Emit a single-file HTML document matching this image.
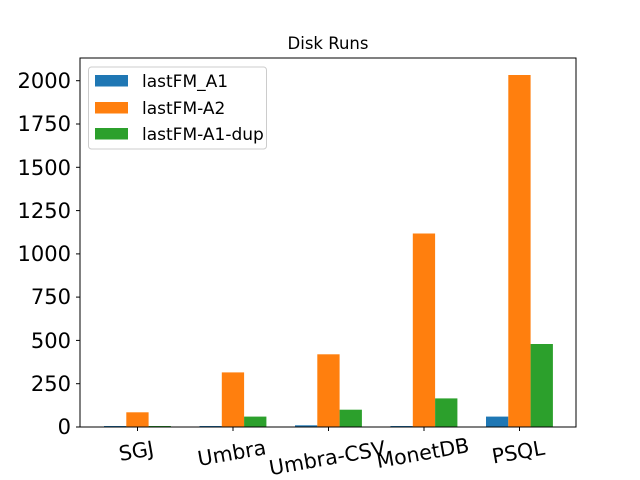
<!DOCTYPE html>
<html><head><style>body{margin:0;background:#fff}svg{display:block}text{font-family:"DejaVu Sans","Liberation Sans",sans-serif}</style></head>
<body>
<svg width="640" height="480" viewBox="0 0 640 480" xmlns="http://www.w3.org/2000/svg">
<rect width="640" height="480" fill="#fff"/>
<text x="328" y="49" font-size="16.5" text-anchor="middle">Disk Runs</text>
<g id="bars">
<rect x="104" y="426" width="22.3" height="1" fill="#1f77b4"/>
<rect x="126.3" y="412.3" width="22.3" height="14.7" fill="#ff7f0e"/>
<rect x="148.6" y="426" width="22.3" height="1" fill="#2ca02c"/>

<rect x="199.5" y="426" width="22.3" height="1" fill="#1f77b4"/>
<rect x="221.8" y="372.4" width="22.3" height="54.6" fill="#ff7f0e"/>
<rect x="244.1" y="416.6" width="22.3" height="10.4" fill="#2ca02c"/>

<rect x="295" y="425.3" width="22.3" height="1.7" fill="#1f77b4"/>
<rect x="317.3" y="354.3" width="22.3" height="72.7" fill="#ff7f0e"/>
<rect x="339.6" y="409.7" width="22.3" height="17.3" fill="#2ca02c"/>

<rect x="390.5" y="426" width="22.3" height="1" fill="#1f77b4"/>
<rect x="412.8" y="233.5" width="22.3" height="193.5" fill="#ff7f0e"/>
<rect x="435.1" y="398.4" width="22.3" height="28.6" fill="#2ca02c"/>

<rect x="486" y="416.6" width="22.3" height="10.4" fill="#1f77b4"/>
<rect x="508.3" y="75" width="22.3" height="352" fill="#ff7f0e"/>
<rect x="530.6" y="344" width="22.3" height="83" fill="#2ca02c"/>
</g>
<rect x="80" y="58" width="496" height="369" fill="none" stroke="#000" stroke-width="1"/>
<g stroke="#000" stroke-width="1">
<line x1="76" y1="427" x2="80" y2="427"/><line x1="76" y1="383.7" x2="80" y2="383.7"/><line x1="76" y1="340.4" x2="80" y2="340.4"/><line x1="76" y1="297.1" x2="80" y2="297.1"/><line x1="76" y1="253.9" x2="80" y2="253.9"/><line x1="76" y1="210.6" x2="80" y2="210.6"/><line x1="76" y1="167.3" x2="80" y2="167.3"/><line x1="76" y1="124" x2="80" y2="124"/><line x1="76" y1="80.7" x2="80" y2="80.7"/>
<line x1="137.5" y1="427" x2="137.5" y2="431"/><line x1="233" y1="427" x2="233" y2="431"/><line x1="328.5" y1="427" x2="328.5" y2="431"/><line x1="424" y1="427" x2="424" y2="431"/><line x1="519.5" y1="427" x2="519.5" y2="431"/>
</g>
<g font-size="21" text-anchor="end">
<text x="71" y="434">0</text><text x="71" y="391">250</text><text x="71" y="348">500</text><text x="71" y="304">750</text><text x="71" y="261">1000</text><text x="71" y="218">1250</text><text x="71" y="175">1500</text><text x="71" y="131">1750</text><text x="71" y="88">2000</text>
</g>
<g font-size="20.5" text-anchor="middle">
<text transform="translate(137.5,458) rotate(-10)">SGJ</text>
<text transform="translate(233,460) rotate(-10)">Umbra</text>
<text transform="translate(328.5,465) rotate(-10)">Umbra-CSV</text>
<text transform="translate(424,460) rotate(-10)">MonetDB</text>
<text transform="translate(519.5,459) rotate(-10)">PSQL</text>
</g>
<rect x="88.5" y="67" width="178" height="82" rx="3" fill="#fff" fill-opacity="0.8" stroke="#ccc"/>
<rect x="95" y="75" width="33" height="11.5" fill="#1f77b4"/>
<rect x="95" y="102" width="33" height="11.5" fill="#ff7f0e"/>
<rect x="95" y="128" width="33" height="11.5" fill="#2ca02c"/>
<g font-size="17">
<text x="142" y="87">lastFM_A1</text>
<text x="142" y="114">lastFM-A2</text>
<text x="142" y="140">lastFM-A1-dup</text>
</g>
</svg>
</body></html>
